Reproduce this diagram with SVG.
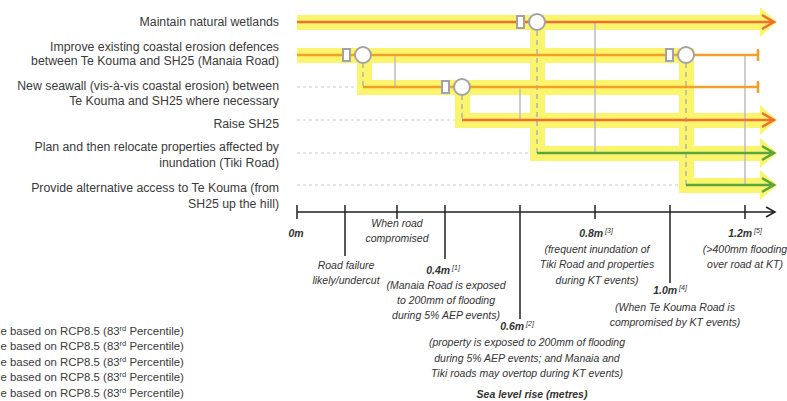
<svg xmlns="http://www.w3.org/2000/svg" width="787" height="401" viewBox="0 0 787 401">
  <style>
    .band { fill: #fbf56e; }
    .lbl { font-family: "Liberation Sans", Arial, sans-serif; font-size: 12.3px; fill: #3a3a3a; text-anchor: end; }
    .ax { font-family: "Liberation Sans", Arial, sans-serif; font-size: 10.5px; font-style: italic; fill: #333; text-anchor: middle; }
    .axb { font-weight: bold; }
    .sup { font-size: 7px; font-weight: normal; }
    .note { font-family: "Liberation Sans", Arial, sans-serif; font-size: 11.4px; fill: #3a3a3a; }
    .red { stroke: #ec7230; stroke-width: 2.5; fill: none; }
    .amber { stroke: #f2a028; stroke-width: 2.5; fill: none; }
    .green { stroke: #5ba63c; stroke-width: 2.5; fill: none; }
    .guide { stroke: #c9c9c9; stroke-width: 1; stroke-dasharray: 3 3; fill: none; }
    .trans { stroke: #b3b3b3; stroke-width: 1.5; stroke-dasharray: 5 4; fill: none; }
    .tip { stroke: #bdbdbd; stroke-width: 1.5; fill: none; }
    .mk { fill: #fff; stroke: #a3a3a3; stroke-width: 2; }
    .axis { stroke: #222; stroke-width: 1.5; fill: none; }
  </style>

  <!-- highlighted pathway bands -->
  <g id="bands">
    <rect class="band" x="297" y="15" width="466" height="15"/>
    <polygon class="band" points="760,7 777,22 760,37"/>
    <rect class="band" x="297" y="48" width="397" height="15"/>
    <rect class="band" x="357" y="80" width="337" height="15"/>
    <rect class="band" x="455" y="113" width="308" height="15"/>
    <polygon class="band" points="760,105 777,120 760,135"/>
    <rect class="band" x="530" y="146" width="233" height="15"/>
    <polygon class="band" points="760,138 777,153 760,168"/>
    <rect class="band" x="679" y="178" width="84" height="15"/>
    <polygon class="band" points="760,170 777,185 760,200"/>
    <rect class="band" x="530" y="22" width="15" height="131"/>
    <rect class="band" x="357" y="55" width="15" height="32"/>
    <rect class="band" x="455" y="87" width="15" height="33"/>
    <rect class="band" x="679" y="55" width="15" height="130"/>
  </g>

  <!-- connectors: guides, transfers, tipping points, action lines -->
  <g id="connectors">
    <path class="guide" d="M297 87H357M297 120H455M297 153H530M297 185H680"/>
    <path class="tip" d="M395 55V87M520 87V120M595 22V153M745 55V185"/>
    <path class="trans" d="M537 31V153M363 63V87M462 95V120M686 63V185"/>

    <path class="red" d="M297 22H773M762 15L774 22L762 29"/>
    <path class="amber" d="M297 55H758M758 49V61"/>
    <path class="amber" d="M363 87H758M758 81V93"/>
    <path class="red" d="M462 120H773M762 113L774 120L762 127"/>
    <path class="green" d="M537 153H773M762 146L774 153L762 160"/>
    <path class="green" d="M686 185H773M762 178L774 185L762 192"/>
  </g>

  <!-- action nodes -->
  <g id="wetlands">
    <text class="lbl" x="279" y="26">Maintain natural wetlands</text>
    <rect class="mk" x="517" y="16" width="7" height="12"/>
    <circle class="mk" cx="537" cy="22" r="8"/>
  </g>
  <g id="improve-defences">
    <text class="lbl" x="279" y="51">Improve existing coastal erosion defences</text>
    <text class="lbl" x="279" y="65">between Te Kouma and SH25 (Manaia Road)</text>
    <rect class="mk" x="343" y="49" width="7" height="12"/>
    <circle class="mk" cx="363" cy="55" r="8"/>
    <rect class="mk" x="666" y="49" width="7" height="12"/>
    <circle class="mk" cx="686" cy="55" r="8"/>
  </g>
  <g id="new-seawall">
    <text class="lbl" x="279" y="90">New seawall (vis-à-vis coastal erosion) between</text>
    <text class="lbl" x="279" y="105">Te Kouma and SH25 where necessary</text>
    <rect class="mk" x="442" y="81" width="7" height="12"/>
    <circle class="mk" cx="462" cy="87" r="8"/>
  </g>
  <g id="raise-sh25">
    <text class="lbl" x="279" y="128">Raise SH25</text>
  </g>
  <g id="relocate">
    <text class="lbl" x="279" y="151">Plan and then relocate properties affected by</text>
    <text class="lbl" x="279" y="167">inundation (Tiki Road)</text>
  </g>
  <g id="alt-access">
    <text class="lbl" x="279" y="192">Provide alternative access to Te Kouma (from</text>
    <text class="lbl" x="279" y="208">SH25 up the hill)</text>
  </g>

  <!-- sea level rise axis -->
  <g id="axis">
    <path class="axis" d="M297 212H774M766 207L775 212L766 217"/>
    <path class="axis" d="M297 205V219M397 205V219M595 205V219M745 205V219"/>
    <path class="axis" d="M345 205V256M445 205V259M520 205V319M670 205V283"/>

    <text class="ax axb" x="296" y="237">0m</text>
    <text class="ax" x="397" y="227">When road</text>
    <text class="ax" x="397" y="242">compromised</text>
    <text class="ax" x="346" y="269">Road failure</text>
    <text class="ax" x="346" y="284">likely/undercut</text>

    <text class="ax axb" x="443" y="274">0.4m<tspan class="sup" dy="-4"> [1]</tspan></text>
    <text class="ax" x="446" y="289">(Manaia Road is exposed</text>
    <text class="ax" x="446" y="304">to 200mm of flooding</text>
    <text class="ax" x="446" y="319">during 5% AEP events)</text>

    <text class="ax axb" x="517" y="330">0.6m<tspan class="sup" dy="-4"> [2]</tspan></text>
    <text class="ax" x="527" y="346">(property is exposed to 200mm of flooding</text>
    <text class="ax" x="527" y="362">during 5% AEP events; and Manaia and</text>
    <text class="ax" x="527" y="377">Tiki roads may overtop during KT events)</text>

    <text class="ax axb" x="596" y="237">0.8m<tspan class="sup" dy="-4"> [3]</tspan></text>
    <text class="ax" x="597" y="253">(frequent inundation of</text>
    <text class="ax" x="597" y="268">Tiki Road and properties</text>
    <text class="ax" x="597" y="284">during KT events)</text>

    <text class="ax axb" x="670" y="294">1.0m<tspan class="sup" dy="-4"> [4]</tspan></text>
    <text class="ax" x="675" y="311">(When Te Kouma Road is</text>
    <text class="ax" x="675" y="326">compromised by KT events)</text>

    <text class="ax axb" x="745" y="237">1.2m<tspan class="sup" dy="-4"> [5]</tspan></text>
    <text class="ax" x="745" y="253">(&gt;400mm flooding</text>
    <text class="ax" x="745" y="268">over road at KT)</text>

    <text class="ax axb" x="532" y="398">Sea level rise (metres)</text>
  </g>

  <!-- footnotes -->
  <g id="notes">
    <text class="note" x="0.5" y="335">e based on RCP8.5 (83<tspan font-size="7.5" dy="-4">rd</tspan><tspan dy="4"> Percentile)</tspan></text>
    <text class="note" x="0.5" y="350">e based on RCP8.5 (83<tspan font-size="7.5" dy="-4">rd</tspan><tspan dy="4"> Percentile)</tspan></text>
    <text class="note" x="0.5" y="366">e based on RCP8.5 (83<tspan font-size="7.5" dy="-4">rd</tspan><tspan dy="4"> Percentile)</tspan></text>
    <text class="note" x="0.5" y="381">e based on RCP8.5 (83<tspan font-size="7.5" dy="-4">rd</tspan><tspan dy="4"> Percentile)</tspan></text>
    <text class="note" x="0.5" y="397">e based on RCP8.5 (83<tspan font-size="7.5" dy="-4">rd</tspan><tspan dy="4"> Percentile)</tspan></text>
  </g>
</svg>
